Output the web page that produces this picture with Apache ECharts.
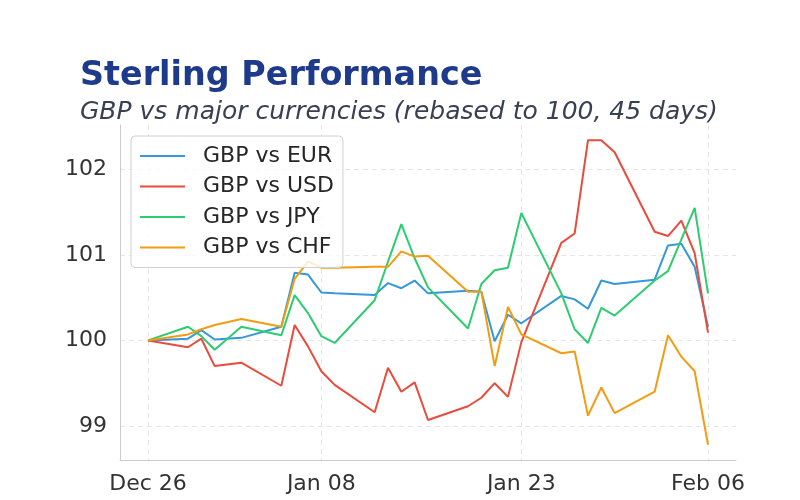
<!DOCTYPE html>
<html>
<head>
<meta charset="utf-8">
<script src="https://cdn.jsdelivr.net/npm/echarts@6/dist/echarts.min.js"></script>
<style>
  html, body { margin: 0; padding: 0; background: #fff; }
  #chart { width: 800px; height: 500px; }
</style>
</head>
<body>
<div id="chart"></div>
<script>
// trading days, rebased series
const dates = [
  '2025-12-26', '2025-12-29', '2025-12-30', '2025-12-31', '2026-01-02',
  '2026-01-05', '2026-01-06', '2026-01-07', '2026-01-08', '2026-01-09',
  '2026-01-12', '2026-01-13', '2026-01-14', '2026-01-15', '2026-01-16',
  '2026-01-19', '2026-01-20', '2026-01-21', '2026-01-22', '2026-01-23',
  '2026-01-26', '2026-01-27', '2026-01-28', '2026-01-29', '2026-01-30',
  '2026-02-02', '2026-02-03', '2026-02-04', '2026-02-05', '2026-02-06'
];
const gbpEur = [100, 100.02, 100.12, 100.01, 100.03, 100.16, 100.79, 100.77, 100.56, 100.55,
  100.53, 100.67, 100.61, 100.70, 100.55, 100.58, 100.57, 99.99, 100.30, 100.20,
  100.52, 100.48, 100.37, 100.70, 100.66, 100.71, 101.11, 101.13, 100.86, 100.16];
const gbpUsd = [100, 99.92, 100.02, 99.70, 99.74, 99.47, 100.18, 99.93, 99.64, 99.48,
  99.16, 99.68, 99.40, 99.51, 99.07, 99.23, 99.33, 99.50, 99.34, 99.98,
  101.14, 101.25, 102.34, 102.34, 102.20, 101.27, 101.22, 101.40, 101.02, 100.09];
const gbpJpy = [100, 100.16, 100.05, 99.89, 100.16, 100.06, 100.53, 100.32, 100.05, 99.97,
  100.47, 100.92, 101.36, 100.96, 100.62, 100.14, 100.66, 100.82, 100.85, 101.49,
  100.55, 100.13, 99.97, 100.38, 100.29, 100.70, 100.81, 101.18, 101.55, 100.55];
const gbpChf = [100, 100.07, 100.13, 100.18, 100.25, 100.16, 100.72, 100.92, 100.85, 100.85,
  100.86, 100.86, 101.04, 100.98, 100.99, 100.57, 100.57, 99.70, 100.39, 100.07,
  99.85, 99.87, 99.12, 99.45, 99.15, 99.40, 100.06, 99.81, 99.64, 98.78];

const seriesNames = ['GBP vs EUR', 'GBP vs USD', 'GBP vs JPY', 'GBP vs CHF'];
const seriesColors = ['#3498db', '#e74c3c', '#2ecc71', '#f39c12'];
const xTicks = ['2025-12-26', '2026-01-08', '2026-01-23', '2026-02-06'];
const yTicks = [99, 100, 101, 102];
const months = ['Jan', 'Feb', 'Mar', 'Apr', 'May', 'Jun', 'Jul', 'Aug', 'Sep', 'Oct', 'Nov', 'Dec'];

function ts(s) {
  const p = s.split('-').map(Number);
  return new Date(p[0], p[1] - 1, p[2]).getTime();
}

const allVals = gbpEur.concat(gbpUsd, gbpJpy, gbpChf);
const lo = Math.min(...allVals), hi = Math.max(...allVals);
const yPad = (hi - lo) * 0.05;
const t0 = ts(dates[0]), t1 = ts(dates[dates.length - 1]);
const xPad = (t1 - t0) * 0.05;

const font = 'DejaVu Sans';
const chart = echarts.init(document.getElementById('chart'));

chart.setOption({
  animation: false,
  backgroundColor: '#fff',
  title: [
    {
      text: 'Sterling Performance',
      left: 80, top: 60, padding: 0,
      textStyle: { fontFamily: font, fontWeight: 'bold', fontSize: 33.4, color: '#1e3a8a' }
    },
    {
      text: 'GBP vs major currencies (rebased to 100, 45 days)',
      left: 80, top: 100, padding: 0,
      textStyle: { fontFamily: font, fontStyle: 'italic', fontWeight: 'normal', fontSize: 25, color: '#374151' }
    }
  ],
  legend: {
    orient: 'vertical',
    left: 131, top: 136,
    padding: [9, 9, 9, 9],
    icon: 'rect',
    itemWidth: 45, itemHeight: 2, itemGap: 8.5,
    backgroundColor: 'rgba(255,255,255,0.8)',
    borderColor: '#d0d0d0', borderWidth: 1, borderRadius: 4,
    textStyle: { fontFamily: font, fontSize: 22, color: '#262626', padding: [0, 0, 0, 13] },
    data: seriesNames
  },
  grid: { left: 120, right: 64, top: 125, bottom: 40, containLabel: false },
  xAxis: {
    type: 'value',
    min: t0 - xPad, max: t1 + xPad,
    axisLine: { show: true, lineStyle: { color: '#cccccc', width: 1 } },
    axisTick: { show: false, customValues: xTicks.map(ts) },
    axisLabel: {
      customValues: xTicks.map(ts),
      showMinLabel: true, showMaxLabel: true,
      fontFamily: font, fontSize: 22, color: '#333', margin: 13,
      formatter: function (v) {
        const d = new Date(v);
        return months[d.getMonth()] + ' ' + String(d.getDate()).padStart(2, '0');
      }
    },
    splitLine: { show: true, lineStyle: { color: '#e6e6e6', type: [5, 4], width: 1 } }
  },
  yAxis: {
    type: 'value',
    min: lo - yPad, max: hi + yPad,
    axisLine: { show: true, lineStyle: { color: '#cccccc', width: 1 } },
    axisTick: { show: false, customValues: yTicks },
    axisLabel: {
      customValues: yTicks,
      fontFamily: font, fontSize: 22, color: '#333', margin: 13
    },
    splitLine: { show: true, lineStyle: { color: '#e6e6e6', type: [5, 4], width: 1 } }
  },
  series: [gbpEur, gbpUsd, gbpJpy, gbpChf].map(function (vals, i) {
    return {
      name: seriesNames[i],
      type: 'line',
      symbol: 'none',
      color: seriesColors[i],
      lineStyle: { width: 2, color: seriesColors[i] },
      data: vals.map(function (v, j) { return [ts(dates[j]), v]; })
    };
  })
});
</script>
</body>
</html>
